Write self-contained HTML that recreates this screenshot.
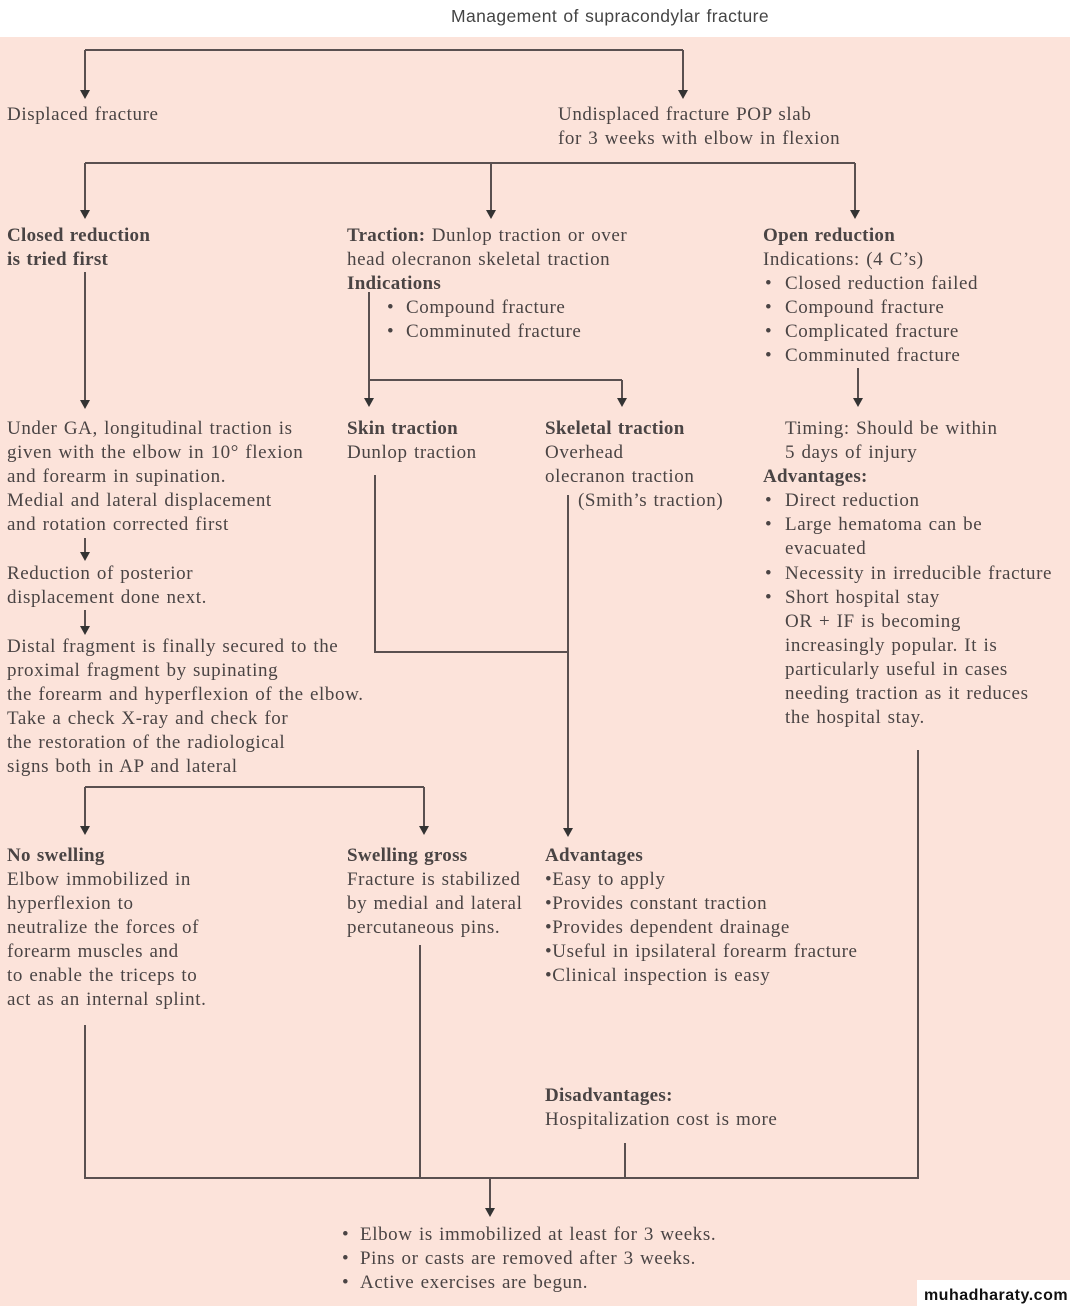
<!DOCTYPE html>
<html><head><meta charset="utf-8"><style>
html,body{margin:0;padding:0;background:#fff;}
svg{display:block;}
text{font-family:"Liberation Serif",serif;font-size:19px;letter-spacing:0.6px;word-spacing:1px;fill:#4a4444;}
.b{font-weight:bold;letter-spacing:0.3px;}
.t{font-family:"Liberation Sans",sans-serif;font-size:17.5px;letter-spacing:0.4px;fill:#444;}
</style></head><body>
<svg width="1075" height="1306" viewBox="0 0 1075 1306" xmlns="http://www.w3.org/2000/svg">
<rect x="0" y="0" width="1075" height="1306" fill="#fff"/>
<rect x="0" y="37" width="1070" height="1269" fill="#fce3da"/>
<text class="t" x="610" y="22" text-anchor="middle">Management of supracondylar fracture</text>
<g stroke="#5a5050" stroke-width="2" fill="none">
<path d="M85,50 H683"/><path d="M85,50 V92"/><path d="M683,50 V92"/>
<path d="M85,163 H855"/><path d="M85,163 V212"/><path d="M491,163 V212"/><path d="M855,163 V212"/>
<path d="M85,272 V402"/>
<path d="M369,292 V380 H622"/><path d="M369,380 V400"/><path d="M622,380 V400"/>
<path d="M858,368 V400"/>
<path d="M85,538 V554"/>
<path d="M85,610 V628"/>
<path d="M375,475 V652 H568"/><path d="M568,495 V830"/>
<path d="M85,787 H424"/><path d="M85,787 V828"/><path d="M424,787 V828"/>
<path d="M85,1025 V1178 H918 V750"/><path d="M420,945 V1178"/><path d="M625,1143 V1178"/>
<path d="M490,1178 V1210"/>
</g>
<g fill="#333">
<polygon points="80,90 90,90 85,99"/><polygon points="678,90 688,90 683,99"/>
<polygon points="80,210 90,210 85,219"/><polygon points="486,210 496,210 491,219"/><polygon points="850,210 860,210 855,219"/>
<polygon points="80,400 90,400 85,409"/>
<polygon points="364,398 374,398 369,407"/><polygon points="617,398 627,398 622,407"/><polygon points="853,398 863,398 858,407"/>
<polygon points="80,552 90,552 85,561"/><polygon points="80,626 90,626 85,635"/>
<polygon points="563,828 573,828 568,837"/>
<polygon points="80,826 90,826 85,835"/><polygon points="419,826 429,826 424,835"/>
<polygon points="485,1208 495,1208 490,1217"/>
</g>
<text x="7" y="120">Displaced fracture</text>
<text x="558" y="120">Undisplaced fracture POP slab</text>
<text x="558" y="144">for 3 weeks with elbow in  flexion</text>
<text class="b" x="7" y="241">Closed reduction</text>
<text class="b" x="7" y="265">is tried first</text>
<text x="347" y="241"><tspan class="b">Traction:</tspan> Dunlop traction or over</text>
<text x="347" y="265">head olecranon skeletal traction</text>
<text class="b" x="347" y="289">Indications</text>
<text x="387" y="313">•</text><text x="406" y="313">Compound fracture</text>
<text x="387" y="337">•</text><text x="406" y="337">Comminuted fracture</text>
<text class="b" x="763" y="241">Open reduction</text>
<text x="763" y="265">Indications: (4 C’s)</text>
<text x="765" y="289">•</text><text x="785" y="289">Closed reduction failed</text>
<text x="765" y="313">•</text><text x="785" y="313">Compound fracture</text>
<text x="765" y="337">•</text><text x="785" y="337">Complicated fracture</text>
<text x="765" y="361">•</text><text x="785" y="361">Comminuted fracture</text>
<text x="7" y="434">Under GA, longitudinal traction is</text>
<text x="7" y="458">given with the elbow in 10° flexion</text>
<text x="7" y="482">and forearm in supination.</text>
<text x="7" y="506">Medial and lateral displacement</text>
<text x="7" y="530">and rotation corrected first</text>
<text x="7" y="579">Reduction of posterior</text>
<text x="7" y="603">displacement done next.</text>
<text x="7" y="652">Distal fragment is finally secured to the</text>
<text x="7" y="676">proximal fragment by supinating</text>
<text x="7" y="700">the forearm and hyperflexion of the elbow.</text>
<text x="7" y="724">Take a check X-ray and check for</text>
<text x="7" y="748">the restoration of the radiological</text>
<text x="7" y="772">signs both in AP and lateral</text>
<text class="b" x="347" y="434">Skin traction</text>
<text x="347" y="458">Dunlop traction</text>
<text class="b" x="545" y="434">Skeletal traction</text>
<text x="545" y="458">Overhead</text>
<text x="545" y="482">olecranon traction</text>
<text x="578" y="506">(Smith’s traction)</text>
<text x="785" y="434">Timing: Should be within</text>
<text x="785" y="458">5 days of injury</text>
<text class="b" x="763" y="482">Advantages:</text>
<text x="765" y="506">•</text><text x="785" y="506">Direct reduction</text>
<text x="765" y="530">•</text><text x="785" y="530">Large hematoma can be</text>
<text x="785" y="554">evacuated</text>
<text x="765" y="579">•</text><text x="785" y="579">Necessity in irreducible fracture</text>
<text x="765" y="603">•</text><text x="785" y="603">Short hospital stay</text>
<text x="785" y="627">OR + IF is becoming</text>
<text x="785" y="651">increasingly popular. It is</text>
<text x="785" y="675">particularly useful in cases</text>
<text x="785" y="699">needing traction as it reduces</text>
<text x="785" y="723">the hospital stay.</text>
<text class="b" x="7" y="861">No swelling</text>
<text x="7" y="885">Elbow immobilized in</text>
<text x="7" y="909">hyperflexion to</text>
<text x="7" y="933">neutralize the forces of</text>
<text x="7" y="957">forearm muscles and</text>
<text x="7" y="981">to enable the triceps to</text>
<text x="7" y="1005">act as an internal splint.</text>
<text class="b" x="347" y="861">Swelling gross</text>
<text x="347" y="885">Fracture is stabilized</text>
<text x="347" y="909">by medial and lateral</text>
<text x="347" y="933">percutaneous pins.</text>
<text class="b" x="545" y="861">Advantages</text>
<text x="545" y="885">•Easy to apply</text>
<text x="545" y="909">•Provides constant traction</text>
<text x="545" y="933">•Provides dependent drainage</text>
<text x="545" y="957">•Useful in ipsilateral forearm fracture</text>
<text x="545" y="981">•Clinical inspection is easy</text>
<text class="b" x="545" y="1101">Disadvantages:</text>
<text x="545" y="1125">Hospitalization cost is more</text>
<text x="342" y="1240">•</text><text x="360" y="1240">Elbow is immobilized at least for 3 weeks.</text>
<text x="342" y="1264">•</text><text x="360" y="1264">Pins or casts are removed after 3 weeks.</text>
<text x="342" y="1288">•</text><text x="360" y="1288">Active exercises are begun.</text>
<rect x="917" y="1280" width="158" height="26" fill="#fff"/>
<text x="996" y="1300" text-anchor="middle" style="font-family:'Liberation Sans',sans-serif;font-size:16px;letter-spacing:0.5px;font-weight:bold;fill:#111">muhadharaty.com</text>
</svg>
</body></html>
